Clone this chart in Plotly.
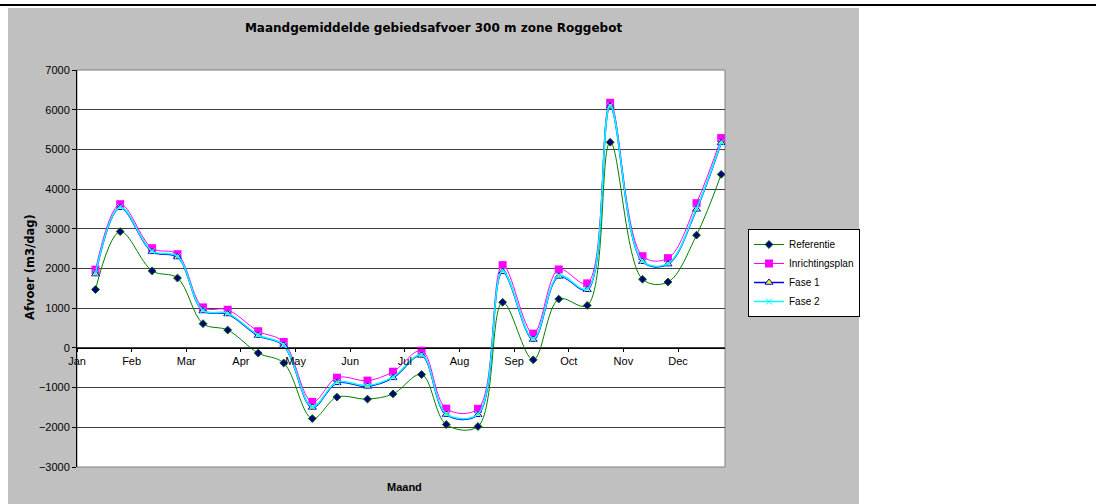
import calendar
import plotly.graph_objects as go

# Maandgemiddelde gebiedsafvoer (m3/dag), twee waarden per maand
maanden = ["Jan", "Feb", "Mar", "Apr", "May", "Jun",
           "Jul", "Aug", "Sep", "Oct", "Nov", "Dec"]

datums = ["2005-01-11", "2005-01-25", "2005-02-11", "2005-02-24",
          "2005-03-10", "2005-03-24", "2005-04-10", "2005-04-24",
          "2005-05-10", "2005-05-24", "2005-06-10", "2005-06-24",
          "2005-07-10", "2005-07-24", "2005-08-11", "2005-08-25",
          "2005-09-11", "2005-09-25", "2005-10-11", "2005-10-24",
          "2005-11-11", "2005-11-25", "2005-12-11", "2005-12-25"]

referentie = [1470, 2930, 1940, 1760, 610, 450, -130, -380,
              -1780, -1240, -1290, -1160, -670, -1930, -1980, 1150,
              -300, 1230, 1070, 5180, 1730, 1660, 2840, 4370]

inrichtingsplan = [1970, 3620, 2510, 2360, 1020, 960, 420, 150,
                   -1360, -750, -825, -600, -70, -1530, -1535, 2085,
                   360, 1975, 1625, 6175, 2310, 2260, 3645, 5285]

fase1 = [1860, 3530, 2420, 2290, 930, 855, 310, 60,
         -1500, -880, -970, -755, -190, -1680, -1685, 1915,
         210, 1800, 1465, 6085, 2170, 2110, 3490, 5165]

fase2 = [1880, 3545, 2435, 2305, 945, 870, 325, 75,
         -1480, -860, -950, -735, -175, -1660, -1665, 1935,
         230, 1820, 1485, 6100, 2185, 2125, 3510, 5180]


def maandpositie(datum):
    """Position on a month axis where every month has equal width."""
    jaar, maand, dag = (int(d) for d in datum.split("-"))
    ndagen = calendar.monthrange(jaar, maand)[1]
    return (maand - 1) + (dag - 0.5) / ndagen


x = [maandpositie(d) for d in datums]

FONT = "Liberation Sans, Arial, sans-serif"
FONT_WIDE = "DejaVu Sans, Liberation Sans, sans-serif"

fig = go.Figure()

fig.add_trace(go.Scatter(
    x=x, y=referentie, name="Referentie", mode="lines+markers",
    line=dict(color="#008000", width=1, shape="spline", smoothing=1),
    marker=dict(symbol="diamond", size=6, color="#000080",
                line=dict(color="#006400", width=1)),
))
fig.add_trace(go.Scatter(
    x=x, y=inrichtingsplan, name="Inrichtingsplan", mode="lines+markers",
    line=dict(color="#FF00FF", width=1, shape="spline", smoothing=1),
    marker=dict(symbol="square", size=8, color="#FF00FF"),
))
fig.add_trace(go.Scatter(
    x=x, y=fase1, name="Fase 1", mode="lines+markers",
    line=dict(color="#0000FF", width=1.5, shape="spline", smoothing=1),
    marker=dict(symbol="triangle-up", size=7, color="#FFFF00",
                line=dict(color="#0000FF", width=1)),
))
fig.add_trace(go.Scatter(
    x=x, y=fase2, name="Fase 2", mode="lines+markers",
    line=dict(color="#00FFFF", width=1.5, shape="spline", smoothing=1),
    marker=dict(symbol="x-thin", size=6, color="#00FFFF",
                line=dict(color="#00FFFF", width=1)),
))

# plot area: 77..725 px horizontally, 70..467 px vertically
L, R, T, B = 77, 371, 70, 37
W, H = 1096, 504
pw, ph = W - L - R, H - T - B


def px_x(p):
    return (p - L) / pw


def px_y(p):
    return (H - B - p) / ph


shapes = [
    # grey chart area
    dict(type="rect", xref="paper", yref="paper", layer="below",
         x0=px_x(8), x1=px_x(859), y0=px_y(504), y1=px_y(8),
         fillcolor="#C0C0C0", line=dict(width=0)),
    # white plot area with grey frame
    dict(type="rect", xref="paper", yref="paper", layer="below",
         x0=0, x1=1, y0=0, y1=1,
         fillcolor="#FFFFFF", line=dict(color="#808080", width=1)),
    # rule above the chart
    dict(type="line", xref="paper", yref="paper",
         x0=px_x(0), x1=px_x(W), y0=px_y(5), y1=px_y(5),
         line=dict(color="#000000", width=2)),
]

annotations = [
    dict(text="<b>Afvoer (m3/dag)</b>", xref="paper", yref="paper",
         x=px_x(30), y=px_y(267), textangle=-90, showarrow=False,
         xanchor="center", yanchor="middle",
         font=dict(family=FONT_WIDE, size=11.5, color="#000000")),
    dict(text="<b>Maand</b>", xref="paper", yref="paper",
         x=px_x(404), y=px_y(487), showarrow=False,
         xanchor="center", yanchor="middle",
         font=dict(family=FONT, size=11, color="#000000")),
]

ymin, ymax = -3000, 7000

fig.update_layout(
    width=W, height=H,
    margin=dict(l=L, r=R, t=T, b=B, pad=0),
    paper_bgcolor="#FFFFFF",
    plot_bgcolor="rgba(0,0,0,0)",
    font=dict(family=FONT, size=11, color="#000000"),
    title=dict(text="<b>Maandgemiddelde gebiedsafvoer 300 m zone Roggebot</b>",
               x=433.5 / W, xref="container", xanchor="center",
               y=1 - 28 / H, yref="container", yanchor="middle",
               font=dict(family=FONT_WIDE, size=12, color="#000000")),
    xaxis=dict(
        range=[0, 11.86], tickmode="array",
        tickvals=list(range(len(maanden))), ticktext=maanden,
        showgrid=False, zeroline=False,
        showline=True, linecolor="#000000", linewidth=1,
        ticks="outside", ticklen=3, tickcolor="#000000",
        anchor="free", position=(0 - ymin) / (ymax - ymin),
        tickfont=dict(family=FONT, size=11, color="#000000"),
    ),
    yaxis=dict(
        range=[ymin, ymax], dtick=1000, tick0=0,
        showgrid=True, gridcolor="#404040", gridwidth=1,
        zeroline=False,
        showline=True, linecolor="#000000", linewidth=1,
        ticks="outside", ticklen=4, tickcolor="#000000",
        tickfont=dict(family=FONT, size=11, color="#000000"),
    ),
    legend=dict(
        x=px_x(748), y=px_y(229), xanchor="left", yanchor="top",
        bgcolor="#FFFFFF", bordercolor="#000000", borderwidth=1,
        font=dict(family=FONT, size=10, color="#000000"),
        itemwidth=30, tracegroupgap=0,
    ),
    shapes=shapes,
    annotations=annotations,
    showlegend=True,
)

fig.write_html("out.html")
